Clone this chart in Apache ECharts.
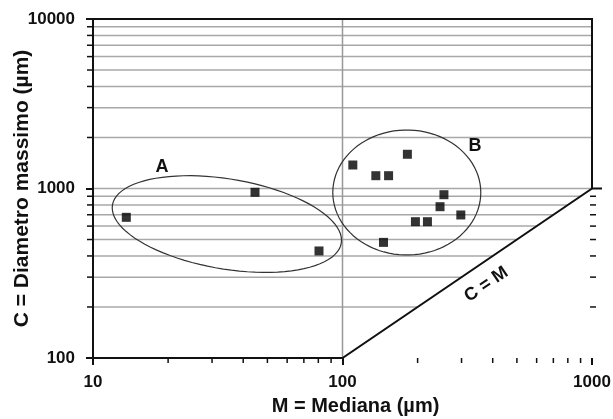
<!DOCTYPE html>
<html lang="it">
<head>
    <meta charset="UTF-8">
    <title>C = Diametro massimo vs M = Mediana</title>
    <script src="https://cdn.jsdelivr.net/npm/echarts@6/dist/echarts.min.js"></script>
    <style>
        html, body { margin: 0; padding: 0; background: #fff; }
        #main { width: 613px; height: 419px; }
    </style>
</head>
<body>
    <div id="main"></div>
    <script>
        // valori
        var mediana = [13.6, 44.6, 80.5, 110, 136, 153, 182, 196, 219, 246, 255, 298, 146];
        var diametroMax = [676, 950, 428, 1376, 1190, 1190, 1592, 637, 637, 781, 919, 698, 481];

        // tacche e griglia
        var xMinorTicks = [20, 30, 40, 50, 60, 70, 80, 90, 200, 300, 400, 500, 600, 700, 800, 900];
        var yMinorTicks = [200, 300, 400, 500, 600, 700, 800, 900, 2000, 3000, 4000, 5000, 6000, 7000, 8000, 9000];
        var yGridLines = [200, 300, 400, 500, 600, 700, 800, 900, 1000, 2000, 3000, 4000, 5000, 6000, 7000, 8000, 9000];
        var rightMinorTicks = [200, 300, 400, 500, 600, 700, 800, 900];

        // ellissi dei gruppi A e B (centro in unita' del grafico)
        var gruppi = ['A', 'B'];
        var centroM = [34.4, 181];
        var centroC = [617, 947];
        var etichettaM = [18.9, 340];
        var etichettaC = [1340, 1780];

        var FONT = '"Liberation Sans", Arial, sans-serif';
        var punti = [];
        for (var i = 0; i < mediana.length; i++) {
            punti.push([mediana[i], diametroMax[i]]);
        }

        var myChart = echarts.init(document.getElementById('main'));

        function seg(a, b, w, col) {
            return {
                type: 'line',
                shape: { x1: a[0], y1: a[1], x2: b[0], y2: b[1] },
                style: { stroke: col, lineWidth: w }
            };
        }

        function disegnaSfondo(params, api) {
            var els = [];
            var gray = '#a8a8a8';
            // righe orizzontali fino alla retta C = M
            yGridLines.forEach(function (v) {
                els.push(seg(api.coord([10, v]), api.coord([Math.min(v, 1000), v]), 1.5, gray));
            });
            // riga verticale a 100
            els.push(seg(api.coord([100, 100]), api.coord([100, 10000]), 1.5, '#999'));

            // ellissi
            var forma = { A: [116, 45, 9.5], B: [74, 62.5, 0] };
            gruppi.forEach(function (g, k) {
                var c = api.coord([centroM[k], centroC[k]]);
                var a = forma[g][0], b = forma[g][1], th = forma[g][2] * Math.PI / 180;
                var pts = [];
                for (var s = 0; s < 90; s++) {
                    var t = s / 90 * Math.PI * 2;
                    var dx = a * Math.cos(t), dy = b * Math.sin(t);
                    pts.push([c[0] + dx * Math.cos(th) - dy * Math.sin(th),
                              c[1] + dx * Math.sin(th) + dy * Math.cos(th)]);
                }
                els.push({
                    type: 'polygon',
                    shape: { points: pts },
                    style: { fill: 'none', stroke: '#333', lineWidth: 1.2 }
                });
                var lp = api.coord([etichettaM[k], etichettaC[k]]);
                els.push({
                    type: 'text', x: lp[0], y: lp[1],
                    style: { text: g, fill: '#111', font: 'bold 18px ' + FONT, align: 'center', verticalAlign: 'middle' }
                });
            });

            // cornice con la retta C = M
            var cornice = [api.coord([100, 100]), api.coord([10, 100]), api.coord([10, 10000]),
                           api.coord([1000, 10000]), api.coord([1000, 1000])];
            els.push({
                type: 'polygon',
                shape: { points: cornice },
                style: { fill: 'none', stroke: '#111', lineWidth: 2 },
                z2: 10
            });

            // tacche secondarie
            yMinorTicks.forEach(function (v) {
                var p = api.coord([10, v]);
                els.push(seg([p[0] - 6, p[1]], [p[0], p[1]], 1.5, '#111'));
            });
            xMinorTicks.forEach(function (v) {
                var p = api.coord([v, 100]);
                els.push(seg([p[0], p[1]], [p[0], p[1] + 5], 1.5, '#111'));
            });
            rightMinorTicks.forEach(function (v) {
                var p = api.coord([1000, v]);
                els.push(seg([p[0] - 2, p[1]], [p[0] + 4, p[1]], 1.5, '#111'));
            });
            var p1000 = api.coord([1000, 1000]);
            els.push(seg([p1000[0], p1000[1]], [p1000[0] + 10, p1000[1]], 2, '#111'));

            // testo lungo la retta C = M
            var q0 = api.coord([100, 100]), q1 = api.coord([1000, 1000]);
            var ang = Math.atan2(q0[1] - q1[1], q1[0] - q0[0]);
            var q = api.coord([340, 340]);
            els.push({
                type: 'text',
                x: q[0] + 20 * Math.sin(ang),
                y: q[1] + 20 * Math.cos(ang),
                rotation: ang,
                style: { text: 'C = M', fill: '#111', font: 'bold 18px ' + FONT, align: 'center', verticalAlign: 'middle' }
            });

            return { type: 'group', children: els };
        }

        var option = {
            animation: false,
            backgroundColor: '#fff',
            grid: { left: 93, right: 21, top: 19, bottom: 61, outerBoundsMode: 'none', containLabel: false },
            xAxis: {
                type: 'log',
                logBase: 10,
                min: 10,
                max: 1000,
                name: 'M = Mediana (µm)',
                nameLocation: 'middle',
                nameGap: 38,
                nameMoveOverlap: false,
                nameTextStyle: { fontFamily: FONT, fontWeight: 'bold', fontSize: 20, color: '#111', padding: [0, 0, 0, 26] },
                axisLine: { show: false },
                axisTick: { show: true, length: 7, lineStyle: { color: '#111', width: 2 } },
                axisLabel: {
                    margin: 16, color: '#111', fontFamily: FONT, fontWeight: 'bold', fontSize: 17,
                    formatter: function (v) { return String(Math.round(v)); }
                },
                splitLine: { show: false }
            },
            yAxis: {
                type: 'log',
                logBase: 10,
                min: 100,
                max: 10000,
                name: 'C = Diametro massimo (µm)',
                nameLocation: 'middle',
                nameGap: 60,
                nameMoveOverlap: false,
                nameTextStyle: { fontFamily: FONT, fontWeight: 'bold', fontSize: 21, color: '#111' },
                axisLine: { show: true, lineStyle: { color: '#111', width: 2 } },
                axisTick: { show: true, length: 7, lineStyle: { color: '#111', width: 2 } },
                axisLabel: {
                    margin: 18, color: '#111', fontFamily: FONT, fontWeight: 'bold', fontSize: 17,
                    formatter: function (v) { return String(Math.round(v)); }
                },
                splitLine: { show: false }
            },
            series: [
                {
                    type: 'custom',
                    z: 1,
                    silent: true,
                    clip: false,
                    data: [[10, 100]],
                    renderItem: disegnaSfondo
                },
                {
                    name: 'campioni',
                    type: 'scatter',
                    z: 3,
                    symbol: 'rect',
                    symbolSize: 9,
                    itemStyle: { color: '#000' },
                    data: punti
                }
            ]
        };

        myChart.setOption(option);
    </script>
</body>
</html>
